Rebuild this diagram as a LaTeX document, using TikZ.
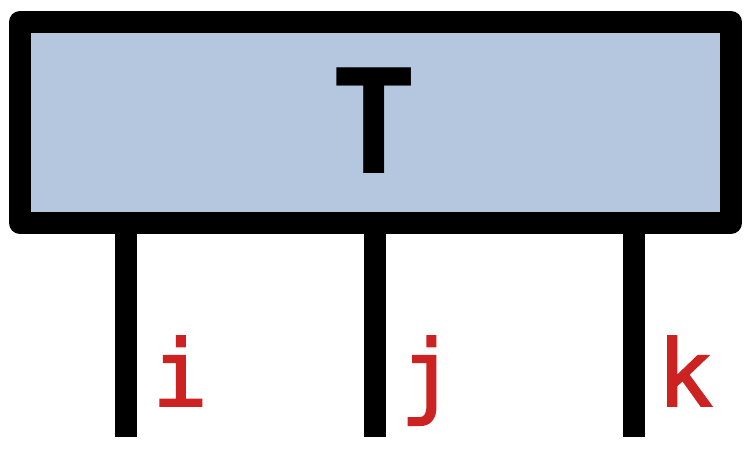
\documentclass[tikz,border=0pt]{standalone}
\usepackage{fontspec}
\newfontfamily\monofont{DejaVu Sans Mono}
\newfontfamily\labelfont[FakeBold=2]{DejaVu Sans Mono}
\definecolor{boxblue}{RGB}{180,199,222}
\definecolor{labelred}{RGB}{204,34,34}
\begin{document}
\begin{tikzpicture}[x=1pt,y=-1pt,
  tensor/.style={draw=black, fill=boxblue, line width=22pt, line join=round,
    minimum width=711pt, minimum height=201pt, inner sep=0pt, outer sep=0pt},
  leg/.style={draw=black, line width=22pt, line cap=butt},
  idx/.style={text=labelred, anchor=base, inner sep=0pt,
    font=\labelfont\fontsize{92}{92}\selectfont}]
\useasboundingbox (0,0) rectangle (754,456);
\node[tensor] (T) at (375.5,122.5) {};
\node[anchor=base, inner sep=0pt, font=\monofont\bfseries\fontsize{145}{145}\selectfont] (Tl) at (374,173) {T};
\coordinate (ei) at (126,437);
\coordinate (ej) at (374.5,437);
\coordinate (ek) at (634,437);
\draw[leg] (T.south -| ei) -- (ei);
\draw[leg] (T.south -| ej) -- (ej);
\draw[leg] (T.south -| ek) -- (ek);
\node[idx] (li) at (180,406) {i};
\node[idx] (lj) at (428,406) {j};
\node[idx] (lk) at (685,406) {k};
\end{tikzpicture}
\end{document}
